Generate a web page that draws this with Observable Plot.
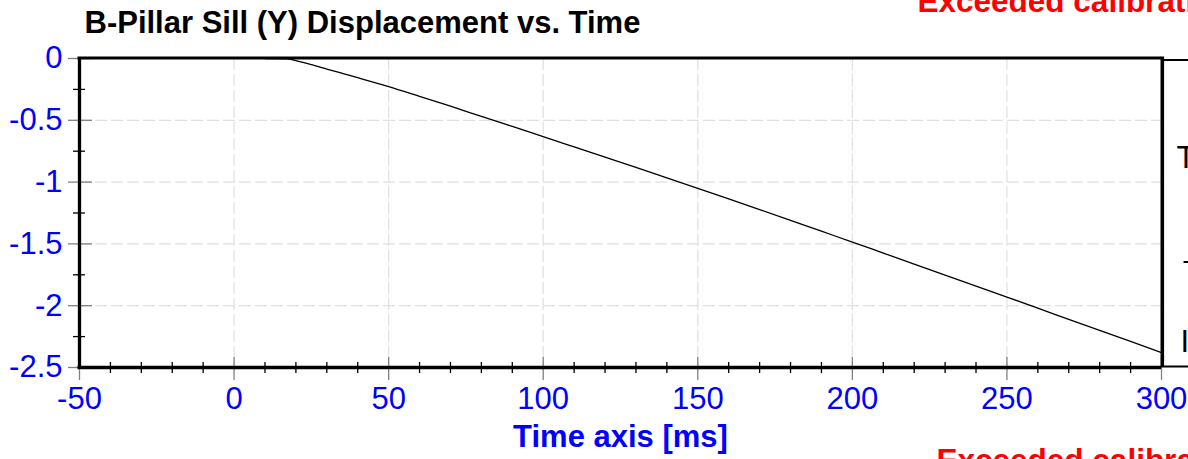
<!DOCTYPE html>
<html><head><meta charset="utf-8">
<script src="https://cdn.jsdelivr.net/npm/d3@7"></script>
<script src="https://cdn.jsdelivr.net/npm/@observablehq/plot@0.6"></script>
<style>
html,body{margin:0;padding:0;overflow:hidden;background:#fff;}
</style></head><body><div id="chart"></div>
<script>
const title = "B-Pillar Sill (Y) Displacement vs. Time";
const xLabel = "Time axis [ms]";
const warningText = "Exceeded calibration";
const legendLabels = ["T", "—", "I"];

const timeMs = [10, 17, 20, 25, 30, 35, 40, 50, 60, 70, 80, 90, 100, 110, 120, 130, 140, 150, 160, 170, 180, 190, 200, 210, 220, 230, 240, 250, 260, 270, 280, 290, 300];
const displacement = [0, -0.002, -0.018, -0.05, -0.085, -0.12, -0.155, -0.227, -0.306, -0.386, -0.468, -0.55, -0.632, -0.715, -0.798, -0.881, -0.965, -1.05, -1.136, -1.222, -1.309, -1.397, -1.485, -1.574, -1.663, -1.752, -1.841, -1.93, -2.02, -2.11, -2.2, -2.289, -2.379];

const xMajorTicks = [-50, 0, 50, 100, 150, 200, 250, 300];
const xMinorTicks = [-40, -30, -20, -10, 10, 20, 30, 40, 60, 70, 80, 90, 110, 120, 130, 140, 160, 170, 180, 190, 210, 220, 230, 240, 260, 270, 280, 290];
const yMajorTicks = [0, -0.5, -1, -1.5, -2, -2.5];
const yMinorTicks = [-0.25, -0.75, -1.25, -1.75, -2.25];

const points = timeMs.map((t, i) => ({t, v: displacement[i]}));
const xMin = xMajorTicks[0], xMax = xMajorTicks[xMajorTicks.length - 1];
const yMax = yMajorTicks[0], yMin = yMajorTicks[yMajorTicks.length - 1];
const font = "'Liberation Sans', Arial, sans-serif";
const fs = 31;

const chart = Plot.plot({
  width: 1188, height: 459,
  marginLeft: 79, marginRight: 27, marginTop: 58, marginBottom: 92,
  style: {fontFamily: font, background: "white"},
  x: {domain: [xMin, xMax]},
  y: {domain: [yMin, yMax]},
  marks: [
    Plot.gridX(xMajorTicks.slice(1, -1), {stroke: "#e0e0e0", strokeOpacity: 1, strokeWidth: 1.2, strokeDasharray: "12,4"}),
    Plot.gridY(yMajorTicks.slice(1, -1), {stroke: "#e0e0e0", strokeOpacity: 1, strokeWidth: 1.2, strokeDasharray: "12,4"}),
    Plot.line(points, {x: "t", y: "v", stroke: "black", strokeWidth: 1.3, curve: "monotone-x"}),
    // major ticks (gray, crossing axis)
    Plot.ruleX(xMajorTicks, {y1: yMin, y2: yMin, insetTop: -10, insetBottom: -13, stroke: "#808080", strokeWidth: 1.3}),
    Plot.ruleY(yMajorTicks, {x1: xMin, x2: xMin, insetLeft: -11, insetRight: -13, stroke: "#808080", strokeWidth: 1.3}),
    // minor ticks
    Plot.ruleX(xMinorTicks, {y1: yMin, y2: yMin, insetTop: -5, insetBottom: -6, stroke: "black", strokeWidth: 1.3}),
    Plot.ruleY(yMinorTicks, {x1: xMin, x2: xMin, insetLeft: -6, insetRight: -6, stroke: "black", strokeWidth: 1.3}),
    // frame
    Plot.ruleX([xMin], {stroke: "black", strokeWidth: 3.3}),
    Plot.ruleY([yMin], {stroke: "black", strokeWidth: 3.3, insetLeft: -1.5}),
    Plot.ruleY([yMax], {stroke: "black", strokeWidth: 3, insetLeft: -1.5, dy: -0.5}),
    Plot.ruleX([xMax], {stroke: "black", strokeWidth: 3.6, insetTop: -1.5, dx: 0.8}),
    // legend box at right (clipped by the page edge)
    Plot.ruleY([yMax], {x1: xMax, x2: xMax, insetRight: -40, dy: 1.5, stroke: "black", strokeWidth: 2}),
    Plot.ruleY([yMin], {x1: xMax, x2: xMax, insetRight: -40, dy: -1, stroke: "black", strokeWidth: 2}),
    Plot.text([legendLabels[0]], {frameAnchor: "right", lineAnchor: "middle", dx: 15, dy: -55, textAnchor: "start", fontSize: fs, fill: "black"}),
    Plot.text([legendLabels[1]], {frameAnchor: "right", lineAnchor: "middle", dx: 22, dy: 47, textAnchor: "start", fontSize: fs, fill: "black"}),
    Plot.text([legendLabels[2]], {frameAnchor: "right", lineAnchor: "middle", dx: 19, dy: 129, textAnchor: "start", fontSize: fs, fill: "black"}),
    // axes labels
    Plot.axisX(xMajorTicks, {tickSize: 0, tickPadding: 19, fontSize: fs, color: "blue", label: null, tickFormat: d => String(d)}),
    Plot.axisY(yMajorTicks, {tickSize: 0, tickPadding: 17, fontSize: fs, color: "blue", label: null, tickFormat: d => String(d)}),
    Plot.text([xLabel], {frameAnchor: "bottom", lineAnchor: "middle", dy: 70, fontSize: fs, fontWeight: "bold", fill: "blue"}),
    // title
    Plot.text([title], {frameAnchor: "top-left", lineAnchor: "middle", dx: 5, dy: -35, textAnchor: "start", fontSize: fs, fontWeight: "bold", fill: "black"}),
    // warnings
    Plot.text([warningText], {frameAnchor: "top-right", lineAnchor: "middle", dx: -244, dy: -56.5, textAnchor: "start", fontSize: 31.5, fontWeight: "bold", fill: "#ff0000"}),
    Plot.text([warningText], {frameAnchor: "bottom-right", lineAnchor: "middle", dx: -225, dy: 93, textAnchor: "start", fontSize: 31.5, fontWeight: "bold", fill: "#ff0000"})
  ]
});
document.getElementById("chart").appendChild(chart);
</script></body></html>
